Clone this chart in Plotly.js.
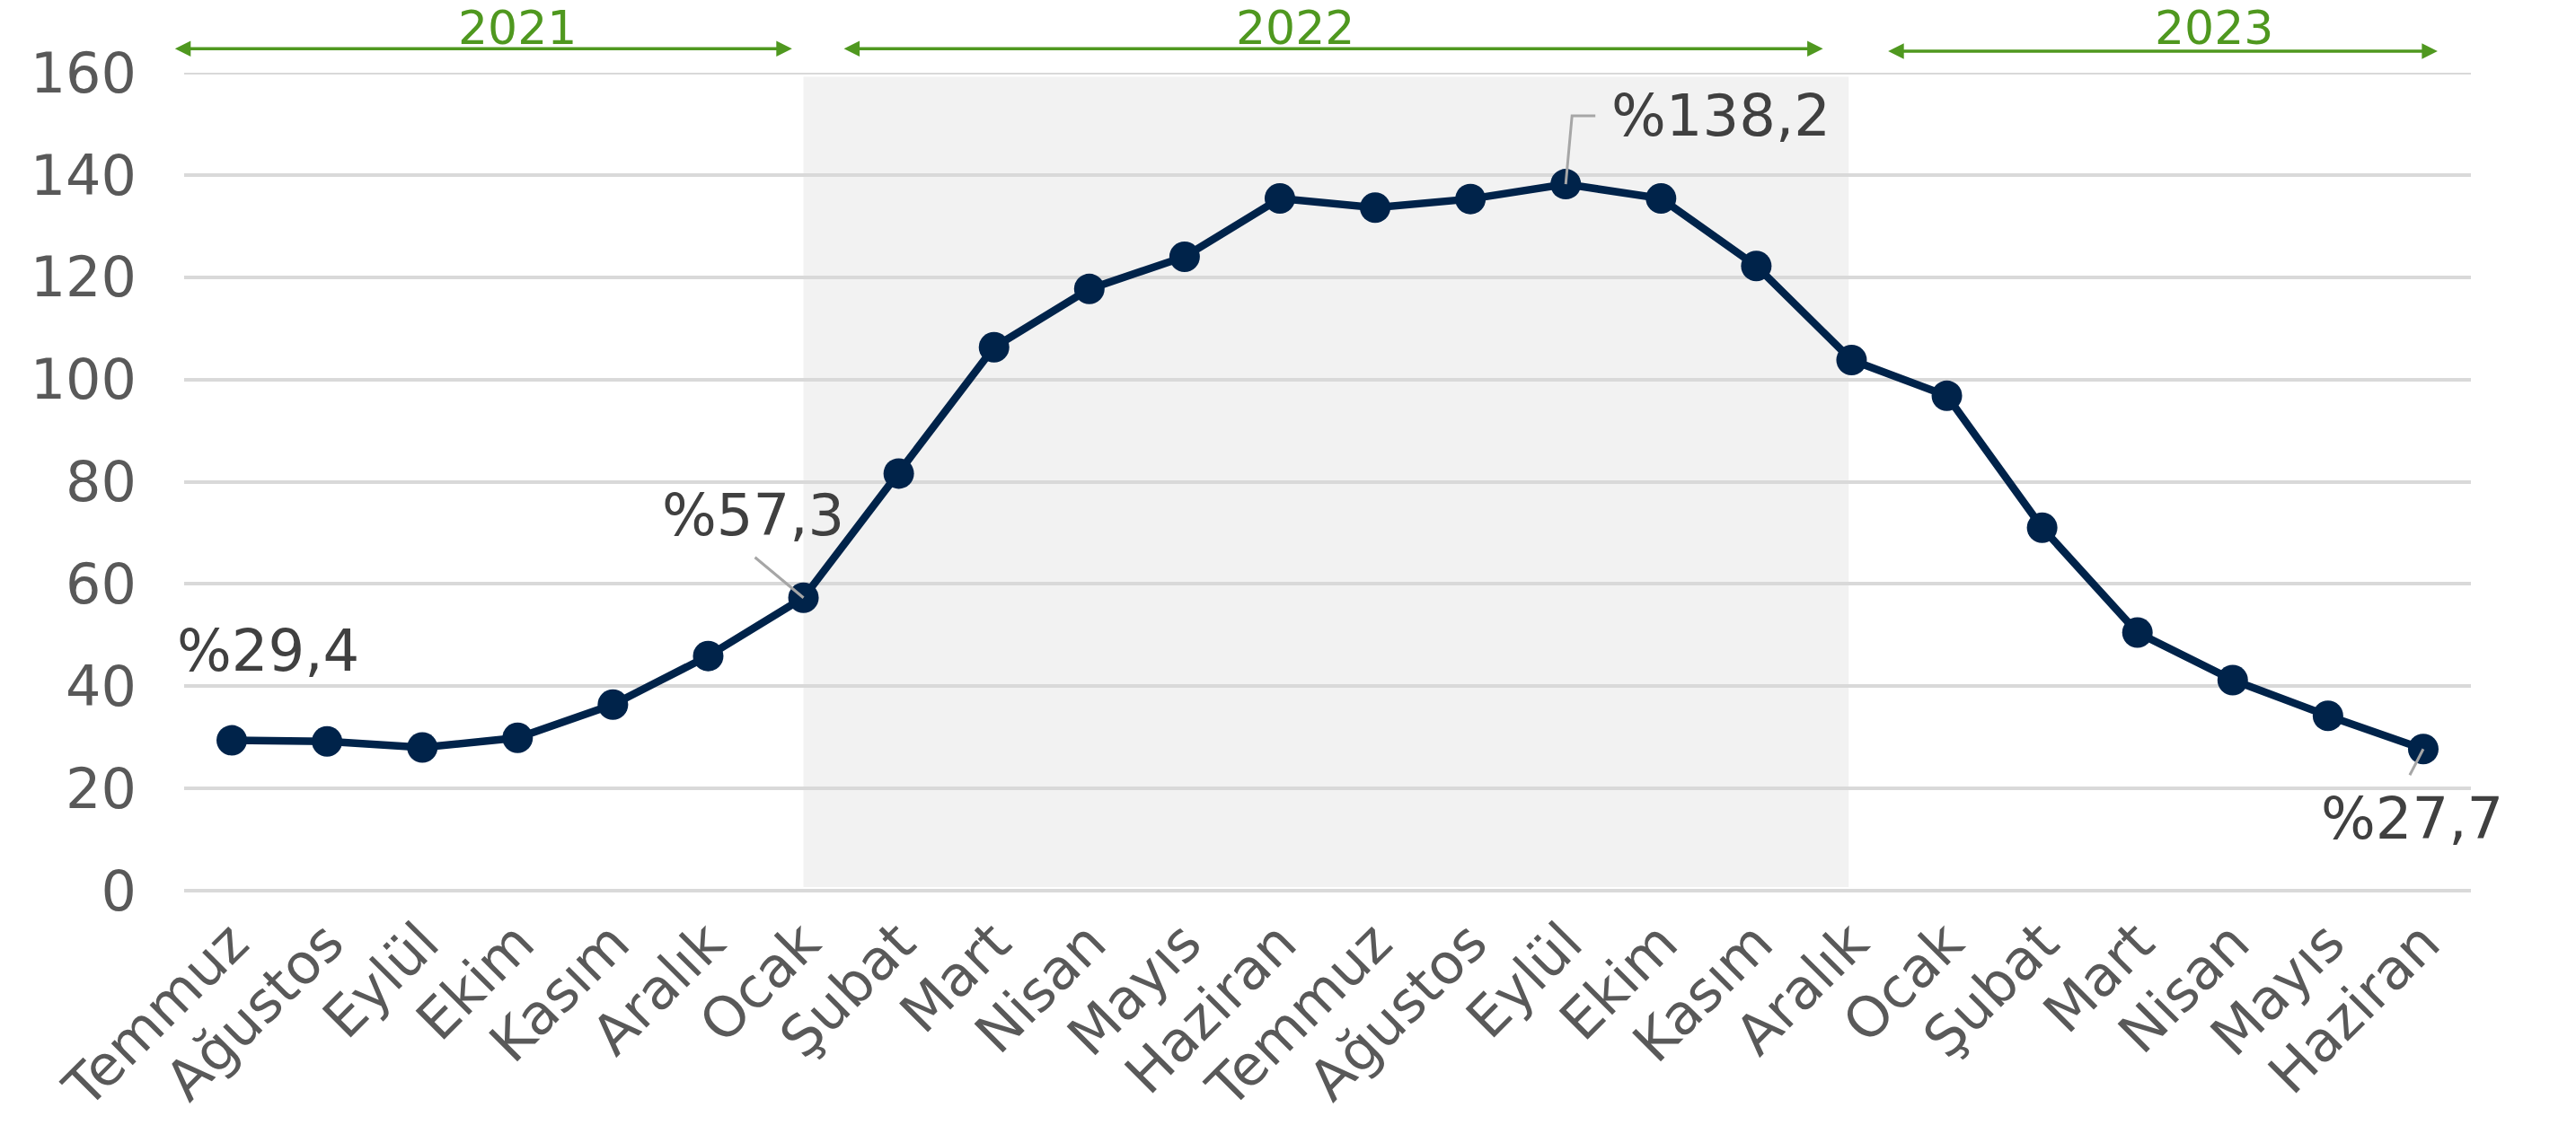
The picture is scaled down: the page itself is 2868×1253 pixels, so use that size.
<!DOCTYPE html>
<html>
<head>
<meta charset="utf-8">
<script src="https://cdn.plot.ly/plotly-3.0.1.min.js"></script>
<style>html,body{margin:0;padding:0;background:#fff;}#chart{width:2868px;height:1253px;}</style>
</head>
<body>
<div id="chart"></div>
<script>
// Month labels (Temmuz 2021 – Haziran 2023)
const months = ["Temmuz","Ağustos","Eylül","Ekim","Kasım","Aralık",
                "Ocak","Şubat","Mart","Nisan","Mayıs","Haziran",
                "Temmuz","Ağustos","Eylül","Ekim","Kasım","Aralık",
                "Ocak","Şubat","Mart","Nisan","Mayıs","Haziran"];
// Annual change (%)
const values = [29.4, 29.2, 28.0, 29.9, 36.4, 45.9,
                57.3, 81.6, 106.3, 117.7, 124.0, 135.4,
                133.6, 135.3, 138.2, 135.4, 122.2, 103.8,
                96.8, 71.0, 50.5, 41.2, 34.2, 27.7];
const yTicks = [0, 20, 40, 60, 80, 100, 120, 140, 160];
// Year spans (index ranges)
const years = ["2021", "2022", "2023"];
const yearStart = [0, 6, 18];
const yearEnd = [5, 17, 23];
// Labelled points
const labelIdx = [0, 6, 14, 23];
const labelText = ["%29,4", "%57,3", "%138,2", "%27,7"];

const xIdx = months.map((m, i) => i);
const FONT = "DejaVu Sans, Verdana, sans-serif";
const NAVY = "#00234a";
const GREEN = "#4f981f";
const GRAY = "#595959";
const GRID = "#d9d9d9";

const trace = {
  x: xIdx, y: values, type: "scatter", mode: "lines+markers",
  line: {color: NAVY, width: 8.5},
  marker: {color: NAVY, size: 34},
  hoverinfo: "skip", showlegend: false, cliponaxis: false
};

const shapes = [];
// 2022 shaded band
shapes.push({type: "rect", xref: "x", yref: "y", layer: "below",
  x0: yearStart[1], x1: yearEnd[1] - 0.03, y0: 0.7, y1: 159.2,
  fillcolor: "#f2f2f2", line: {width: 0}});
// top gridline (range edge)
shapes.push({type: "line", xref: "paper", yref: "y", layer: "below",
  x0: 0, x1: 1, y0: yTicks[yTicks.length - 1], y1: yTicks[yTicks.length - 1],
  line: {color: GRID, width: 4}});

// leader lines (pixel offsets anchored at the labelled points)
const leaderPaths = ["", "M0,0 L-54,45", "M0,0 L7,76 L33,76", "M0,0 L-15,-29"];
labelIdx.forEach((idx, k) => {
  if (!leaderPaths[k]) return;
  shapes.push({type: "path", xref: "x", yref: "y", xsizemode: "pixel", ysizemode: "pixel",
    xanchor: xIdx[idx], yanchor: values[idx], path: leaderPaths[k],
    line: {color: "#a6a6a6", width: 3}, layer: "above"});
});

const annotations = [];
const labelShift = [[40, 100], [-56, 92], [173, 76], [-12, -78]];
labelIdx.forEach((idx, k) => {
  annotations.push({x: xIdx[idx], y: values[idx], xref: "x", yref: "y",
    text: labelText[k], showarrow: false, xshift: labelShift[k][0], yshift: labelShift[k][1],
    font: {family: FONT, size: 64, color: "#404040"}, xanchor: "center", yanchor: "middle"});
});

// year arrows and labels
const arrowFrom = [-0.61, 6.41, 17.37];
const arrowTo = [5.88, 16.70, 23.15];
const arrowY = [1.0293, 1.0293, 1.0263];
const yearTextX = [3.0, 11.16, 20.8];
years.forEach((yr, k) => {
  annotations.push({xref: "x", yref: "paper", x: arrowTo[k], y: arrowY[k],
    axref: "x", ax: arrowFrom[k], ayref: "pixel", ay: 0, text: "",
    showarrow: true, arrowhead: 2, startarrowhead: 2, arrowside: "end+start",
    arrowsize: 1, startarrowsize: 1, arrowwidth: 3.5, arrowcolor: GREEN, standoff: 0, startstandoff: 0});
  annotations.push({xref: "x", yref: "paper", x: yearTextX[k], y: 1.0545,
    text: yr, showarrow: false, xanchor: "center", yanchor: "middle",
    font: {family: FONT, size: 52, color: GREEN}});
});

const layout = {
  width: 2868, height: 1253,
  margin: {l: 205, r: 117, t: 81, b: 261, pad: 0},
  paper_bgcolor: "#ffffff", plot_bgcolor: "rgba(0,0,0,0)",
  font: {family: FONT, color: GRAY},
  xaxis: {range: [-0.5, 23.5], tickvals: xIdx, ticktext: months, tickangle: -45,
    showgrid: false, zeroline: false, showline: false, ticks: "",
    ticklabelstandoff: 8,
    tickfont: {family: FONT, size: 62, color: GRAY}, fixedrange: true},
  yaxis: {range: [0, 160], tickvals: yTicks, showgrid: true, gridcolor: GRID, gridwidth: 4,
    zeroline: true, zerolinecolor: GRID, zerolinewidth: 4, showline: false, ticks: "",
    ticklabelstandoff: 52,
    tickfont: {family: FONT, size: 62, color: GRAY}, fixedrange: true},
  shapes: shapes, annotations: annotations, showlegend: false
};

Plotly.newPlot("chart", [trace], layout, {staticPlot: true, displayModeBar: false});
</script>
</body>
</html>
